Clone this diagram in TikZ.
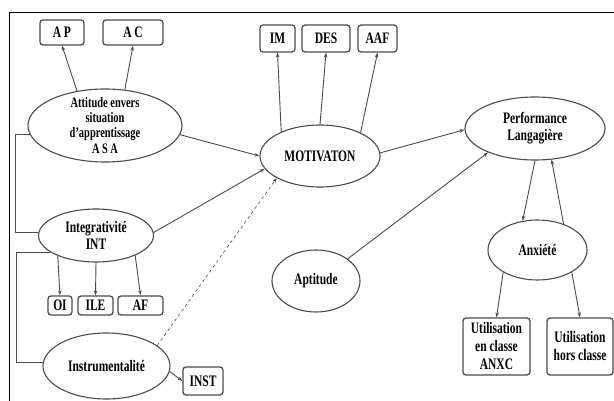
\documentclass[tikz,border=0pt]{standalone}
\usepackage{fontspec}
\setmainfont{Liberation Serif}[FakeStretch=0.72]
\usepackage{tikz}
\usetikzlibrary{shapes.geometric, arrows.meta, positioning}
\definecolor{linegray}{RGB}{75,75,75}

\begin{document}
\begin{tikzpicture}[x=1pt, y=-1pt,
	latent/.style={ellipse, draw=linegray, line width=1.1pt, inner sep=0pt, align=center, font=\fontsize{16}{17}\selectfont\bfseries},
	indic/.style={rectangle, rounded corners=3pt, draw=linegray, line width=1.3pt, inner sep=0pt, align=center, font=\fontsize{16}{18}\selectfont\bfseries},
	link/.style={draw=linegray, line width=0.9pt, -{Stealth[length=5pt,width=3.5pt]}},
	plain/.style={draw=linegray, line width=0.9pt}]
	\fill[white] (0,0) rectangle (614,401);
	\useasboundingbox (0,0) rectangle (614,401);
	\draw[black, line width=0.8pt] (9,401) -- (9,12) -- (614,12);
	
	% latent variables
	\node[latent, minimum width=154pt, minimum height=73pt, inner ysep=-10pt, font=\fontsize{14.5}{15.2}\selectfont\bfseries] (ASA) at (105,125.5) {Attitude envers\\situation\\d'apprentissage\\[1pt]A\,S\,A};
	\node[latent, minimum width=120pt, minimum height=62pt] (MOT) at (320,156) {MOTIVATON};
	\node[latent, minimum width=140pt, minimum height=63pt] (PERF) at (535,128.5) {Performance\\Langagière};
	\node[latent, minimum width=115pt, minimum height=53pt] (INT) at (96,235.5) {Integrativité\\INT};
	\node[latent, minimum width=88pt, minimum height=62pt] (APT) at (316,281) {Aptitude};
	\node[latent, minimum width=99pt, minimum height=60pt] (ANX) at (537.5,250) {Anxiété};
	\node[latent, minimum width=127pt, minimum height=66pt] (INSTR) at (106.5,366) {Instrumentalité};
	
	% indicators
	\node[indic, minimum width=44pt, minimum height=25pt] (AP) at (62,32.5) {A\,P};
	\node[indic, minimum width=60pt, minimum height=25pt] (AC) at (133,32.5) {A\,C};
	\node[indic, minimum width=35pt, minimum height=27pt] (IM) at (277.5,38.5) {IM};
	\node[indic, minimum width=48pt, minimum height=27pt] (DES) at (326,38.5) {DES};
	\node[indic, minimum width=39pt, minimum height=27pt] (AAF) at (377.5,38.5) {AAF};
	\node[indic, minimum width=24pt, minimum height=19pt] (OI) at (60,305.5) {OI};
	\node[indic, minimum width=35pt, minimum height=19pt] (ILE) at (95.5,305.5) {ILE};
	\node[indic, minimum width=45pt, minimum height=19pt] (AF) at (140.5,305.5) {AF};
	\node[indic, minimum width=40pt, minimum height=28pt] (INST) at (203,381) {INST};
	\node[indic, minimum width=67pt, minimum height=57pt] (UC) at (496.5,346.5) {Utilisation\\en classe\\ANXC};
	\node[indic, minimum width=66pt, minimum height=57pt] (UH) at (580,346.5) {Utilisation\\hors classe};
	
	% brackets on the left
	\coordinate (brk) at (15,0);
	\coordinate (brkb) at (16,0);
	\draw[plain] (ASA.187) -- (ASA.187 -| brk) |- (INT.177);
	\draw[plain] (INT.200) -- (INT.200 -| brkb) |- (INSTR.177);
	
	% links
	\draw[link] (ASA.129) -- (AP.south);
	\draw[link] (ASA.61) -- (AC.south);
	\draw[link] (ASA.-7) -- (MOT.west);
	\draw[link] (INT.208) -- (OI.north);
	\draw[link] (INT.south) -- (ILE.north);
	\draw[link] (INT.-27) -- (AF.north);
	\draw[link] (INT.3) -- (MOT.193);
	\draw[link, dashed, line width=0.6pt] (INSTR.22) -- (MOT.207);
	\draw[link] (INSTR.-5) -- (INST.west);
	\draw[link] (MOT.148) -- (IM.south);
	\draw[link] (MOT.north) -- (DES.south);
	\draw[link] (MOT.30) -- (AAF.south);
	\draw[link] (MOT.3) -- (PERF.181);
	\draw[link] (APT.35) -- (PERF.207);
	\draw[link] (PERF.south) -- (ANX.117);
	\draw[link] (ANX.45) -- (PERF.-62);
	\draw[link] (ANX.213) -- (UC.north);
	\draw[link] (ANX.-33) -- (UH.north);
\end{tikzpicture}
\end{document}
